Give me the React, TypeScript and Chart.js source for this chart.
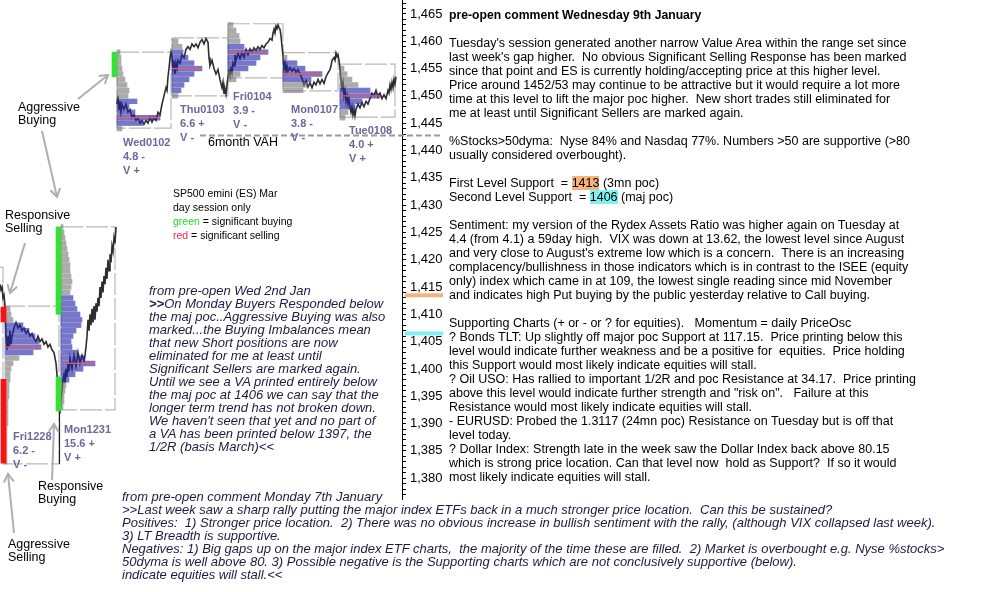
import React, { useEffect, useRef } from "react";
import { Chart, registerables } from "chart.js";
Chart.register(...registerables);

// ---------- scale ----------
const Y_MIN = 1376;
const Y_MAX = 1467.55;
const X_MIN = 0;
const X_MAX = 402;

// ---------- sessions ----------
const dayNames = ["Fri1228", "Mon1231", "Wed0102", "Thu0103", "Fri0104", "Mon0107", "Tue0108"];
const dayRange = ["6.2 -", "15.6 +", "4.8 -", "6.6 +", "3.9 -", "3.8 -", "4.0 +"];
const dayVol = ["V -", "V +", "V +", "V -", "V -", "V -", "V +"];
const boxLeft = [3, 61, 117, 172, 228, 283, 340];
const boxRight = [59, 115, 171, 228, 283, 338, 395];
const boxHigh = [1411.5, 1426, 1458, 1460.6, 1463.2, 1457.9, 1455.8];
const boxLow = [1382.6, 1392.5, 1444.1, 1450, 1453.3, 1450.9, 1446.1];
const prevBoxLeft = -53;
const prevBoxRight = 3;
const prevBoxHigh = 1418.6;
const prevBoxLow = 1410.5;

// profiles: rows every 1 point from profileTop downward, widths in time units
const profileBase = [5, 61, 117, 172, 228, 283, 340];
const profileTop = [1411, 1426, 1458, 1460, 1463, 1457, 1455];
const vaHigh = [1408, 1413, 1449, 1458, 1459, 1456, 1451];
const vaLow = [1403, 1398, 1445, 1451, 1455, 1453, 1448];
const profFri1228 = [5, 6, 8, 18, 24, 30, 34, 36, 28, 14, 8, 6, 5, 5, 4, 4, 4, 3, 3, 3, 3, 3, 2, 2, 2, 2, 2, 2, 2];
const profMon1231 = [2, 3, 4, 5, 6, 7, 8, 9, 9, 10, 11, 10, 9, 12, 14, 16, 19, 21, 20, 15, 12, 10, 11, 16, 24, 34, 22, 14, 8, 5, 4, 3, 3, 2];
const profWed0102 = [3, 4, 4, 5, 6, 8, 10, 12, 11, 20, 12, 18, 43, 26, 5];
const profThu0103 = [6, 10, 11, 16, 22, 30, 22, 17, 12, 9, 6];
const profFri0104 = [5, 8, 11, 12, 16, 40, 32, 28, 20, 12, 8];
const profMon0107 = [4, 14, 22, 39, 28, 24, 20];
const profTue0108 = [4, 7, 12, 18, 30, 40, 22, 15, 8, 5];
const profileWidths = [profFri1228, profMon1231, profWed0102, profThu0103, profFri0104, profMon0107, profTue0108];
const pocPrice = [1404, 1401, 1446, 1455, 1458, 1454, 1450];

// significant buying / selling markers
const markerX = [3.5, 3.5, 58.5, 58.5, 114.5];
const markerLow = [1408.6, 1382.75, 1410.0, 1392.3, 1453.5];
const markerHigh = [1411.3, 1398.1, 1426.0, 1398.5, 1458.0];
const markerIsBuy = [false, false, true, true, true];

// price path (time, price); null = overnight gap
const pricePath: [number, number | null][] = [
  [0, 1415.5], [1, 1414.5], [2, 1415], [3, 1413], [4, 1413.5], [5, 1411.5],
  [6, 1406], [7, 1403.5], [8, 1406], [9, 1404], [10, 1407], [11, 1404.5], [12, 1406], [14, 1407.5],
  [16, 1408.5], [18, 1407.5], [20, 1408], [22, 1407], [24, 1407.5], [26, 1406.5], [28, 1407], [30, 1406],
  [32, 1406.5], [34, 1405.5], [36, 1405], [38, 1406], [40, 1405], [42, 1405.5], [44, 1404.5], [46, 1405],
  [48, 1404], [50, 1404.5], [52, 1403.5], [54, 1403], [56, 1401], [57, 1399], [58, 1396],
  [59, 1393], [60, 1392.5], [61, 1394], [62, 1396], [63, 1398], [64, 1399], [65, 1397.5], [66, 1400],
  [67, 1398.5], [68, 1401], [69, 1399.5], [70, 1402], [72, 1400], [74, 1402.5], [76, 1400.5], [78, 1403],
  [80, 1401], [82, 1402.5], [84, 1401.5], [85, 1402.5], [86, 1404], [87, 1406], [88, 1409], [89, 1407],
  [90, 1410], [91, 1408], [92, 1411], [93, 1408.5], [94, 1411.5], [95, 1409], [96, 1412], [97, 1410.5],
  [98, 1413], [99, 1411.5], [100, 1415], [101, 1413], [102, 1416], [103, 1414], [104, 1417], [105, 1415.5],
  [106, 1418.5], [107, 1416.5], [108, 1420], [109, 1418], [110, 1421], [111, 1419.5], [112, 1422.5],
  [113, 1421.5], [114, 1424], [115, 1423], [116, 1426],
  [116.5, null],
  [117, 1448.5], [118, 1450], [119, 1447.5], [120, 1449], [121, 1447], [122, 1448.5], [124, 1447.5],
  [126, 1448.5], [128, 1447], [130, 1447.5], [132, 1446], [134, 1446.5], [136, 1445.5], [138, 1446],
  [140, 1445], [142, 1445.5], [144, 1444.8], [146, 1445.5], [148, 1445], [150, 1446], [152, 1445.2],
  [154, 1446], [156, 1445.5], [158, 1447], [160, 1446.5], [162, 1448.5], [164, 1450], [166, 1451.5],
  [167, 1451], [168, 1453.5], [169, 1455], [170, 1457], [171, 1458],
  [172, 1457], [173, 1455], [174, 1456.5], [175, 1454], [176, 1456], [177, 1455], [178, 1456.5], [180, 1456],
  [182, 1457.5], [184, 1457], [186, 1458.5], [188, 1459], [190, 1458.5], [192, 1459.5], [194, 1459],
  [196, 1459.5], [198, 1458.8], [200, 1459.8], [202, 1460.3], [204, 1459.5], [206, 1460.5], [208, 1459.8],
  [209, 1457], [210, 1455.5], [212, 1456.5], [214, 1455], [216, 1454], [218, 1454.8], [220, 1453],
  [222, 1451.5], [223, 1452.5], [224, 1450.5], [225, 1451.2], [226, 1450.3], [227, 1452],
  [228, 1453.5], [229, 1454.5], [230, 1453.8], [231, 1455], [232, 1454.2], [233, 1456], [234, 1455.5],
  [235, 1457.5], [236, 1456.5], [238, 1457.8], [240, 1456.8], [242, 1458], [244, 1457], [246, 1458.5],
  [248, 1457.5], [250, 1458.6], [252, 1458], [254, 1458.8], [256, 1458.3], [258, 1459], [260, 1458.5],
  [262, 1459.2], [264, 1458.8], [266, 1459.5], [268, 1459.8], [270, 1460.5], [272, 1460.2], [273, 1461.5],
  [274, 1462.2], [275, 1461.5], [276, 1462.8], [277, 1462.3], [278, 1463], [279, 1462.5], [280, 1462.2],
  [281, 1461], [282, 1459], [283, 1457.5],
  [284, 1455], [285, 1456], [286, 1454.5], [287, 1455.5], [288, 1454.5], [290, 1455.2], [292, 1454.5],
  [294, 1455], [296, 1454.3], [298, 1454.8], [300, 1454], [302, 1453.2], [304, 1452], [306, 1452.8],
  [308, 1451.6], [310, 1452.4], [312, 1451.5], [314, 1452.5], [316, 1452], [318, 1453], [320, 1452.2],
  [322, 1453], [324, 1452.3], [326, 1453.5], [328, 1454.2], [330, 1454.8], [331, 1455.5], [332, 1456.5],
  [334, 1457], [335, 1456.5], [336, 1457.8], [337, 1457.2], [338, 1457.5], [339, 1456.5],
  [340, 1455], [341, 1453], [342, 1451.5], [343, 1452.5], [344, 1450], [345, 1451], [346, 1449],
  [347, 1450], [348, 1448.5], [349, 1449.5], [350, 1448], [351, 1447], [352, 1448], [353, 1446.5],
  [354, 1447.5], [355, 1446.3], [356, 1447.5], [358, 1448.5], [360, 1447.8], [362, 1448.8], [364, 1448],
  [366, 1449], [368, 1448.5], [370, 1449.5], [372, 1450.5], [374, 1450], [376, 1451], [378, 1449.8],
  [380, 1450.5], [382, 1449.5], [384, 1450.2], [386, 1449.5], [388, 1451], [389, 1450.5], [390, 1452],
  [391, 1451.2], [392, 1452.5], [393, 1451.5], [394, 1453], [395, 1452.2], [396, 1453.5],
];

// black wick under Mon1231 low
const wickX = 59.5;
const wickHigh = 1392.3;
const wickLow = 1382.6;

// reference levels
const vahLevel = 1442.75;
const vahFrom = 200;
const vahTo = 440;
const supportLevels = [1413.5, 1406.5];
const supportColors = ["#f5b47c", "#7ef2f2"];
const supportFrom = 405;
const supportTo = 443;

// ---------- text ----------
const titleText = "pre-open comment Wednesday 9th January";
const para1 = [
  "Tuesday's session generated another narrow Value Area within the range set since",
  "last week's gap higher.  No obvious Significant Selling Response has been marked",
  "since that point and ES is currently holding/accepting price at this higher level.",
  "Price around 1452/53 may continue to be attractive but it would require a lot more",
  "time at this level to lift the major poc higher.  New short trades still eliminated for",
  "me at least until Significant Sellers are marked again.",
];
const para2 = [
  "%Stocks>50dyma:  Nyse 84% and Nasdaq 77%. Numbers >50 are supportive (>80",
  "usually considered overbought).",
];
const para4 = [
  "Sentiment: my version of the Rydex Assets Ratio was higher again on Tuesday at",
  "4.4 (from 4.1) a 59day high.  VIX was down at 13.62, the lowest level since August",
  "and very close to August's extreme low which is a concern.  There is an increasing",
  "complacency/bullishness in those indicators which is in contrast to the ISEE (equity",
  "only) index which came in at 109, the lowest single reading since mid November",
  "and indicates high Put buying by the public yesterday relative to Call buying.",
];
const para5 = [
  "Supporting Charts (+ or - or ? for equities).   Momentum = daily PriceOsc",
  "? Bonds TLT: Up slightly off major poc Support at 117.15.  Price printing below this",
  "level would indicate further weakness and be a positive for  equities.  Price holding",
  "this Support would most likely indicate equities will stall.",
  "? Oil USO: Has rallied to important 1/2R and poc Resistance at 34.17.  Price printing",
  "above this level would indicate further strength and \"risk on\".   Failure at this",
  "Resistance would most likely indicate equities will stall.",
  "- EURUSD: Probed the 1.3117 (24mn poc) Resistance on Tuesday but is off that",
  "level today.",
  "? Dollar Index: Strength late in the week saw the Dollar Index back above 80.15",
  "which is strong price location. Can that level now  hold as Support?  If so it would",
  "most likely indicate equities will stall.",
];
const italicLines = [
  "the maj poc..Aggressive Buying was also",
  "marked...the Buying Imbalances mean",
  "that new Short positions are now",
  "eliminated for me at least until",
  "Significant Sellers are marked again.",
  "Until we see a VA printed entirely below",
  "the maj poc at 1406 we can say that the",
  "longer term trend has not broken down.",
  "We haven't seen that yet and no part of",
  "a VA has been printed below 1397, the",
  "1/2R (basis March)<<",
];
const bottomLines = [
  "from pre-open comment Monday 7th January",
  ">>Last week saw a sharp rally putting the major index ETFs back in a much stronger price location.  Can this be sustained?",
  "Positives:  1) Stronger price location.  2) There was no obvious increase in bullish sentiment with the rally, (although VIX collapsed last week).",
  "3) LT Breadth is supportive.",
  "Negatives: 1) Big gaps up on the major index ETF charts,  the majority of the time these are filled.  2) Market is overbought e.g. Nyse %stocks>",
  "50dyma is well above 80. 3) Possible negative is the Supporting charts which are not conclusively supportive (below).",
  "indicate equities will stall.<<",
];

// label placement (pixels)
const dayLabelPos: [number, number][] = [[13, 436], [64, 429], [123, 142], [180, 109], [233, 96], [291, 109], [349, 130]];
const arrows: [number, number, number, number][] = [
  [78, 99, 108, 75],
  [42, 131, 57, 197],
  [25, 243, 10, 293],
  [14, 533, 8, 474],
  [52, 480, 54, 424],
];

const SANS = '"Liberation Sans", Arial, sans-serif';

function rect(l: number, r: number, h: number, lo: number) {
  return [
    { x: l, y: h }, { x: r, y: h }, { x: r, y: lo }, { x: l, y: lo }, { x: l, y: h },
  ];
}

export default function App() {
  const ref = useRef<HTMLCanvasElement | null>(null);

  useEffect(() => {
    if (!ref.current) return;
    const datasets: any[] = [];

    // price
    datasets.push({
      type: "line",
      data: pricePath.map(([x, y]) => ({ x, y })),
      borderColor: "#2e2e2e",
      borderWidth: 1.6,
      pointRadius: 0,
      spanGaps: false,
      order: 10,
    });

    // boxes
    const boxStyle = { type: "line", borderColor: "#b8b8b8", borderWidth: 1.2, borderDash: [22, 3], pointRadius: 0, order: 12 };
    datasets.push({ ...boxStyle, data: rect(prevBoxLeft, prevBoxRight, prevBoxHigh, prevBoxLow) });
    dayNames.forEach((_, i) => {
      datasets.push({ ...boxStyle, data: rect(boxLeft[i], boxRight[i], boxHigh[i], boxLow[i]) });
    });

    // profiles
    dayNames.forEach((_, i) => {
      const gray: any[] = [];
      const blue: any[] = [];
      profileWidths[i].forEach((w, k) => {
        const p = profileTop[i] - k;
        const pt = { y: p, x: [profileBase[i], profileBase[i] + w] };
        if (p <= vaHigh[i] && p >= vaLow[i]) blue.push(pt);
        else gray.push(pt);
      });
      const common = { type: "bar", indexAxis: "y", grouped: false, barThickness: 4.7, borderWidth: 0, order: 5 };
      datasets.push({ ...common, data: gray, backgroundColor: "rgba(120,120,120,0.62)" });
      datasets.push({ ...common, data: blue, backgroundColor: "rgba(35,35,170,0.62)" });
      // poc line
      const pw = profileWidths[i][profileTop[i] - pocPrice[i]];
      datasets.push({
        type: "line",
        data: [{ x: profileBase[i], y: pocPrice[i] }, { x: profileBase[i] + pw, y: pocPrice[i] }],
        borderColor: "#f05a5a",
        borderWidth: 1.3,
        pointRadius: 0,
        order: 2,
      });
    });

    // markers
    datasets.push({
      type: "bar",
      grouped: false,
      barThickness: 5,
      borderWidth: 0,
      order: 3,
      data: markerX.map((x, i) => ({ x, y: [markerLow[i], markerHigh[i]] })),
      backgroundColor: markerIsBuy.map((b) => (b ? "#36e036" : "#ff1010")),
    });

    // wick
    datasets.push({
      type: "line",
      data: [{ x: wickX, y: wickHigh }, { x: wickX, y: wickLow }],
      borderColor: "#222",
      borderWidth: 1.2,
      pointRadius: 0,
      order: 4,
    });

    // 6month VAH
    datasets.push({
      type: "line",
      data: [{ x: vahFrom, y: vahLevel }, { x: vahTo, y: vahLevel }],
      borderColor: "#9a9a9a",
      borderWidth: 2,
      borderDash: [6, 3],
      pointRadius: 0,
      clip: false,
      order: 1,
    });

    // support markers on the axis
    supportLevels.forEach((lv, i) => {
      datasets.push({
        type: "line",
        data: [{ x: supportFrom, y: lv }, { x: supportTo, y: lv }],
        borderColor: supportColors[i],
        borderWidth: 4,
        pointRadius: 0,
        clip: false,
        order: 1,
      });
    });

    const chart = new Chart(ref.current, {
      type: "line",
      data: { datasets },
      options: {
        responsive: false,
        maintainAspectRatio: false,
        animation: false,
        devicePixelRatio: 1,
        events: [],
        layout: { padding: 0 },
        plugins: { legend: { display: false }, tooltip: { enabled: false }, title: { display: false } },
        scales: {
          x: { type: "linear", min: X_MIN, max: X_MAX, display: false, offset: false, grid: { offset: false } },
          y: {
            type: "linear",
            position: "right",
            min: Y_MIN,
            max: Y_MAX,
            offset: false,
            afterFit: (s: any) => {
              s.width = 58;
              s.paddingTop = 0;
              s.paddingBottom = 0;
            },
            ticks: {
              stepSize: 1,
              autoSkip: false,
              includeBounds: false,
              padding: 4,
              color: "#000",
              font: { family: SANS, size: 13 },
              callback: (v: any) => (Number(v) % 5 === 0 ? Number(v).toLocaleString("en-US") : ""),
            },
            grid: { drawOnChartArea: false, drawTicks: true, tickLength: 4, tickColor: "#000", offset: false },
            border: { display: true, color: "#000", width: 1 },
          },
        },
      } as any,
    } as any);
    return () => chart.destroy();
  }, []);

  const abs = (left: number, top: number, extra: React.CSSProperties = {}): React.CSSProperties => ({
    position: "absolute",
    left,
    top,
    whiteSpace: "pre",
    margin: 0,
    ...extra,
  });

  const rightStyle: React.CSSProperties = { fontFamily: SANS, fontSize: 12.5, lineHeight: "14px", color: "#000" };

  return (
    <div style={{ position: "absolute", left: 0, top: 0, width: 997, height: 592, background: "#fff", overflow: "hidden", fontFamily: SANS }}>
      <canvas ref={ref} width={460} height={500} style={{ position: "absolute", left: 0, top: 0, width: 460, height: 500 }} />
      <svg width={997} height={592} style={{ position: "absolute", left: 0, top: 0 }}>
        <defs>
          <marker id="ah" markerWidth="12" markerHeight="12" refX="10" refY="6" orient="auto" markerUnits="userSpaceOnUse">
            <path d="M2,1 L10,6 L2,11" fill="none" stroke="#b0b0b0" strokeWidth="2" />
          </marker>
        </defs>
        {arrows.map((a, i) => (
          <line key={i} x1={a[0]} y1={a[1]} x2={a[2]} y2={a[3]} stroke="#b0b0b0" strokeWidth={2} markerEnd="url(#ah)" />
        ))}
      </svg>

      {/* day labels */}
      {dayNames.map((n, i) => (
        <div key={n} style={abs(dayLabelPos[i][0], dayLabelPos[i][1] - 7, { fontFamily: SANS, fontWeight: "bold", fontSize: 11, lineHeight: "14px", color: "#6a6a98" })}>
          {n + "\n" + dayRange[i] + "\n" + dayVol[i]}
        </div>
      ))}

      <div style={abs(208, 135, { fontSize: 12.5, lineHeight: "14px" })}>6month VAH</div>
      <div style={abs(18, 101, { fontSize: 12.5, lineHeight: "13px" })}>{"Aggressive\nBuying"}</div>
      <div style={abs(5, 209, { fontSize: 12.5, lineHeight: "13px" })}>{"Responsive\nSelling"}</div>
      <div style={abs(38, 480, { fontSize: 12.5, lineHeight: "13px" })}>{"Responsive\nBuying"}</div>
      <div style={abs(8, 538, { fontSize: 12.5, lineHeight: "13px" })}>{"Aggressive\nSelling"}</div>

      <div style={abs(173, 186, { fontSize: 10.5, lineHeight: "14px" })}>
        {"SP500 emini (ES) Mar\nday session only\n"}
        <span style={{ color: "#22dd22" }}>green</span>
        {" = significant buying\n"}
        <span style={{ color: "#ff2244" }}>red</span>
        {" = significant selling"}
      </div>

      <div style={abs(149, 283.5, { fontSize: 13, lineHeight: "13px", fontStyle: "italic", color: "#1c1c40" })}>
        {"from pre-open Wed 2nd Jan\n"}
        <b>{">>"}</b>
        {"On Monday Buyers Responded below\n"}
        {italicLines.join("\n")}
      </div>

      <div style={abs(122, 489.5, { fontSize: 13, lineHeight: "13px", fontStyle: "italic", color: "#1c1c40" })}>
        {bottomLines.join("\n")}
      </div>

      <div style={abs(449, 8, { ...rightStyle, fontWeight: "bold", fontSize: 12.2 })}>{titleText}</div>
      <div style={abs(449, 36, rightStyle)}>{para1.join("\n")}</div>
      <div style={abs(449, 134, rightStyle)}>{para2.join("\n")}</div>
      <div style={abs(449, 176, rightStyle)}>
        {"First Level Support  = "}
        <span style={{ background: "#f5b47c" }}>1413</span>
        {" (3mn poc)\nSecond Level Support  = "}
        <span style={{ background: "#7ef2f2" }}>1406</span>
        {" (maj poc)"}
      </div>
      <div style={abs(449, 218, rightStyle)}>{para4.join("\n")}</div>
      <div style={abs(449, 316, rightStyle)}>{para5.join("\n")}</div>
    </div>
  );
}
